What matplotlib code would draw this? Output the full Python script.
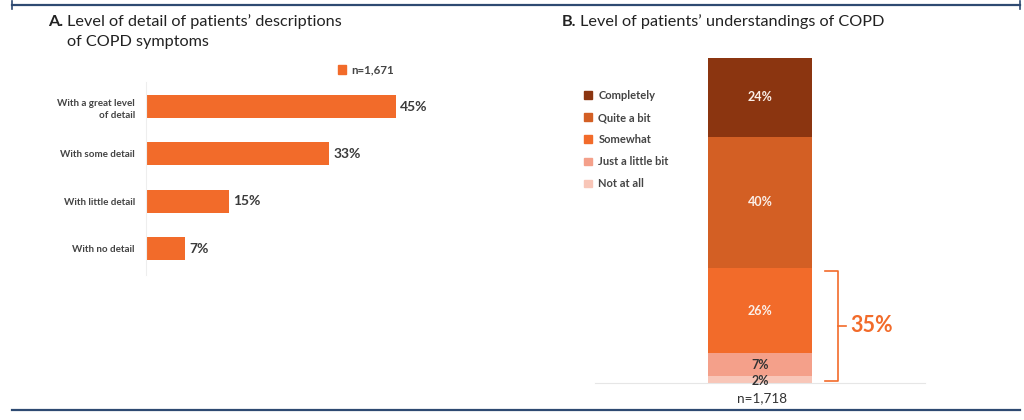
import matplotlib
matplotlib.use("Agg")
import matplotlib.pyplot as plt
from matplotlib.patches import Patch
from matplotlib.lines import Line2D

plt.rcParams['font.family'] = ['Lato', 'DejaVu Sans']

# ---- Data ----
a_categories = ["With a great level\nof detail", "With some detail", "With little detail", "With no detail"]
a_values = [45, 33, 15, 7]
a_n_label = "n=1,671"

b_categories = ["Not at all", "Just a little bit", "Somewhat", "Quite a bit", "Completely"]
b_values = [2, 7, 26, 40, 24]
b_n_label = "n=1,718"
b_bracket_label = "35%"
b_bracket_count = 3  # first three segments (Not at all, Just a little bit, Somewhat)

# ---- Styles ----
W, H = 1024, 420
orange = "#F26B2A"
b_colors = ["#F8C6B8", "#F4A08A", "#F26B2A", "#D35F24", "#8B3510"]
b_text_colors = ["#333333", "#333333", "#FBEFE8", "#FBEFE8", "#FBEFE8"]
navy = "#2E4A72"
title_size = 11.7

fig = plt.figure(figsize=(W / 100, H / 100), dpi=100)

def fx(px):
    return px / W

def fy(py):
    return 1 - py / H

# Border lines
for yy in (5, 410):
    fig.add_artist(Line2D([fx(12), fx(1020)], [fy(yy), fy(yy)], color=navy, lw=1.6))
fig.add_artist(Line2D([fx(12), fx(12)], [fy(1), fy(9)], color=navy, lw=1.2))
fig.add_artist(Line2D([fx(1020), fx(1020)], [fy(1), fy(9)], color=navy, lw=1.2))

# ---- Panel A ----
fig.text(fx(48), fy(22), "A.", fontsize=title_size, fontweight="bold", color="#222222", va="center")
fig.text(fx(67), fy(22), "Level of detail of patients\u2019 descriptions", fontsize=title_size,
         color="#222222", va="center")
fig.text(fx(67), fy(42), "of COPD symptoms", fontsize=title_size, color="#222222", va="center")

axA = fig.add_axes([fx(146), fy(275), fx(479) - fx(146), (275 - 82) / H])
ypos = list(range(len(a_values)))
axA.barh(ypos, a_values, height=0.49, color=orange)
axA.set_xlim(0, 60)
axA.set_ylim(3.56, -0.52)
for y, v in zip(ypos, a_values):
    axA.text(v + 0.75, y, f"{v}%", va="center", ha="left", fontsize=10,
             fontweight="bold", color="#3a3a3a")
axA.set_yticks(ypos)
axA.set_yticklabels(a_categories, fontsize=7.1, color="#444444", fontweight="bold",
                    linespacing=1.5)
axA.tick_params(axis="y", length=0, pad=8)
axA.set_xticks([])
for s in ["top", "right", "bottom"]:
    axA.spines[s].set_visible(False)
axA.spines["left"].set_color("#eeeeee")
axA.spines["left"].set_linewidth(0.8)

fig.legend([Patch(color=orange)], [a_n_label], loc="center left",
           bbox_to_anchor=(fx(328), fy(70)), frameon=False,
           handlelength=0.7, handleheight=0.7, handletextpad=0.4,
           labelcolor="#444444", prop={"weight": "bold", "size": 8.3})

# ---- Panel B ----
fig.text(fx(562), fy(22), "B.", fontsize=title_size, fontweight="bold", color="#222222", va="center")
fig.text(fx(580), fy(22), "Level of patients\u2019 understandings of COPD", fontsize=title_size,
         color="#222222", va="center")

axB = fig.add_axes([fx(595), fy(383), fx(925) - fx(595), (383 - 58) / H])
axB.set_xlim(0, 1)
axB.set_ylim(0, sum(b_values))
bx = (760 - 595) / 330
bw = 104 / 330
bottom = 0
for v, c, tc in zip(b_values, b_colors, b_text_colors):
    axB.bar(bx, v, width=bw, bottom=bottom, color=c)
    ty = bottom + v / 2
    if v <= 2:
        ty = bottom + v / 2 - 0.5
    axB.text(bx, ty, f"{v}%", ha="center", va="center", fontsize=9,
             fontweight="bold", color=tc)
    bottom += v
axB.set_xticks([])
axB.set_yticks([])
for s in ["top", "right", "left"]:
    axB.spines[s].set_visible(False)
axB.spines["bottom"].set_color("#e6e6e6")
axB.spines["bottom"].set_linewidth(0.8)

# Bracket
btop = sum(b_values[:b_bracket_count])
x_br = (838 - 595) / 330
x_in = (825 - 595) / 330
x_out = (846 - 595) / 330
axB.plot([x_in, x_br, x_br, x_in], [btop - 0.8, btop - 0.8, 0.5, 0.5], color=orange,
         lw=1.2, clip_on=False)
axB.plot([x_br, x_out], [btop / 2, btop / 2], color=orange, lw=1.2, clip_on=False)
axB.text((850 - 595) / 330, btop / 2, b_bracket_label, ha="left", va="center",
         fontsize=15.5, fontweight="bold", color=orange)

fig.text(fx(762), fy(398), b_n_label, ha="center", va="center", fontsize=9.7,
         color="#333333")

handles = [Patch(color=c) for c in reversed(b_colors)]
fig.legend(handles, list(reversed(b_categories)), loc="upper left",
           bbox_to_anchor=(fx(574), fy(80)), frameon=False,
           handlelength=0.7, handleheight=0.7, handletextpad=0.6,
           labelspacing=1.0, labelcolor="#444444",
           prop={"weight": "bold", "size": 8})

fig.savefig("out.png", dpi=100)
